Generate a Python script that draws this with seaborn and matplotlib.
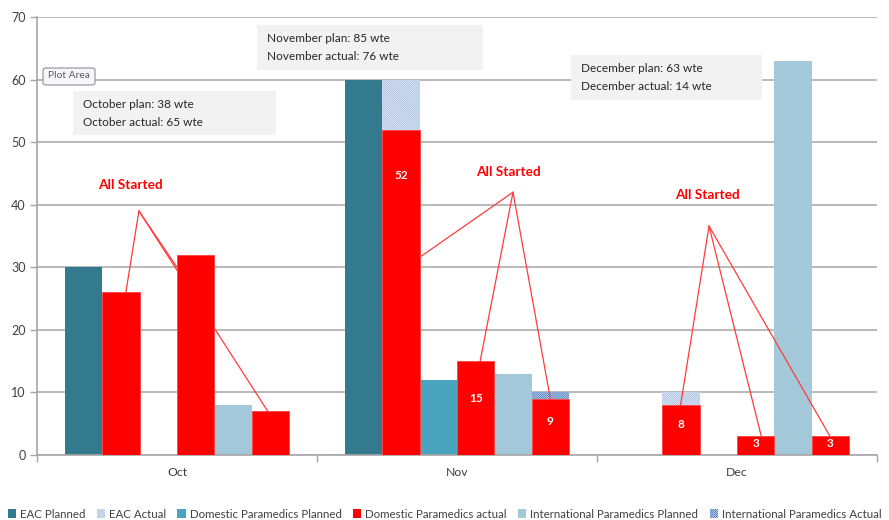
import matplotlib
matplotlib.use("Agg")
import matplotlib.pyplot as plt
from matplotlib.patches import Patch, Rectangle, FancyBboxPatch
import pandas as pd
import seaborn as sns

# ---- data -----------------------------------------------------------------
months = ["Oct", "Nov", "Dec"]
month_names = ["October", "November", "December"]
series = ["EAC Planned", "EAC Actual", "Domestic Paramedics Planned",
          "Domestic Paramedics actual", "International Paramedics Planned",
          "International Paramedics Actual"]
eac_planned = [30, 60, 0]
eac_actual = [26, 60, 10]
dom_planned = [0, 12, 0]
dom_actual = [32, 15, 3]
intl_planned = [8, 13, 63]
intl_actual = [7, 10, 3]
# staff already started, shown in red over the actual bars
eac_started = [26, 52, 8]
intl_started = [7, 9, 3]
plan_totals = [38, 85, 63]
actual_totals = [65, 76, 14]
# which red bars carry a value label
labelled_months = ["Nov", "Dec"]

colors = {
    "EAC Planned": "#347a8e",
    "EAC Actual": "#ffffff",
    "Domestic Paramedics Planned": "#48a4bf",
    "Domestic Paramedics actual": "#ff0000",
    "International Paramedics Planned": "#a2c8d9",
    "International Paramedics Actual": "#ffffff",
}
hatch_colors = {"EAC Actual": "#a9bee0", "International Paramedics Actual": "#4c7cc0"}
HATCH = "\\" * 16
RED = "#ff0000"

base = pd.DataFrame({
    "month": months * 6,
    "series": [s for s in series for _ in months],
    "value": eac_planned + eac_actual + dom_planned + dom_actual + intl_planned + intl_actual,
})
zeros = [0, 0, 0]
started = pd.DataFrame({
    "month": months * 6,
    "series": [s for s in series for _ in months],
    "value": zeros + eac_started + zeros + dom_actual + zeros + intl_started,
})

# ---- figure -----------------------------------------------------------------
sns.set_theme(style="white")
plt.rcParams["font.family"] = ["Lato", "DejaVu Sans"]
plt.rcParams["hatch.linewidth"] = 0.7

W, H = 889, 520
fig = plt.figure(figsize=(W / 100, H / 100), dpi=100)
ax = fig.add_axes([37 / W, 1 - 455 / H, (877 - 37) / W, (455 - 17) / H])

def fx(x):
    return x / W

def fy(y):
    return 1 - y / H

sns.barplot(data=base, x="month", y="value", hue="series", order=months,
            hue_order=series, palette=colors, errorbar=None, width=0.8,
            saturation=1, legend=False, ax=ax)
n_base = len(ax.containers)
sns.barplot(data=started, x="month", y="value", hue="series", order=months,
            hue_order=series, palette={s: RED for s in series}, errorbar=None,
            width=0.8, saturation=1, legend=False, ax=ax)

for s, cont in zip(series, ax.containers[:n_base]):
    for p in cont:
        p.set_linewidth(0)
        p.set_zorder(2)
        if s in hatch_colors:
            p.set_facecolor("white")
            p.set_edgecolor(hatch_colors[s])
            p.set_hatch(HATCH)
        if s == "Domestic Paramedics actual":
            p.set_visible(False)

red_bars = {}
for s, cont in zip(series, ax.containers[n_base:]):
    for m, p in zip(months, cont):
        red_bars[(s, m)] = p
        if p.get_height() <= 0:
            p.set_visible(False)
            continue
        p.set_edgecolor("#ff4a4a")
        p.set_linewidth(0.7)
        p.set_zorder(4)

# value labels inside the red bars
for (s, m), p in red_bars.items():
    v = p.get_height()
    if v <= 0 or m not in labelled_months:
        continue
    ax.text(p.get_x() + p.get_width() / 2, v - min(7.3, v * 0.4), f"{v:g}",
            ha="center", va="center", color="white", fontsize=8.5,
            fontweight="bold", zorder=6)

# "All Started" callouts: label position and apex as offsets from the month
# centre, then the red bars each callout points at
callouts = {
    "Oct": ((-0.168, 43.2), (-0.136, 39.0),
            [("EAC Actual", 0.63, None), ("Domestic Paramedics actual", 0.0, 30),
             ("International Paramedics Actual", 0.43, None)]),
    "Nov": ((0.182, 45.2), (0.2, 42.0),
            [("EAC Actual", 1.0, 31.6), ("Domestic Paramedics actual", 0.62, None),
             ("International Paramedics Actual", 0.5, None)]),
    "Dec": ((-0.104, 41.6), (-0.1, 36.6),
            [("EAC Actual", 0.49, None), ("Domestic Paramedics actual", 0.65, None),
             ("International Paramedics Actual", 0.49, None)]),
}
for i, m in enumerate(months):
    (tx, ty), (axx, ayy), targets = callouts[m]
    ax.text(i + tx, ty, "All Started", ha="center", va="center", color=RED,
            fontsize=9.8, fontweight="bold", zorder=6)
    for s, frac, yv in targets:
        p = red_bars[(s, m)]
        ex = p.get_x() + frac * p.get_width()
        ey = p.get_height() if yv is None else yv
        ax.plot([i + axx, ex], [ayy, ey], color="#ff3b3b", lw=0.9, zorder=3)

# axes styling
ax.set_ylim(0, 70)
ax.set_yticks(range(0, 71, 10))
ax.set_xlim(-0.5, 2.5)
ax.set_xlabel("")
ax.set_ylabel("")
ax.yaxis.grid(True, color="#b3b3b3", lw=1.3)
ax.set_axisbelow(True)
for side in ["top", "right"]:
    ax.spines[side].set_visible(False)
for side in ["left", "bottom"]:
    ax.spines[side].set_color("#a6a6a6")
    ax.spines[side].set_linewidth(1.2)
ax.tick_params(axis="y", length=5, width=1, color="#a6a6a6", labelsize=9,
               labelcolor="#404040", pad=3, left=True)
ax.tick_params(axis="x", which="major", length=0, labelsize=8.8,
               labelcolor="#404040", pad=9)
ax.set_xticks([-0.5, 0.5, 1.5, 2.5], minor=True)
ax.tick_params(axis="x", which="minor", length=5, width=1, color="#a6a6a6",
               bottom=True)

# monthly summary boxes
boxes = [(73, 91, 276, 135), (257, 25, 483, 70), (571, 55, 762, 100)]
for (x0, y0, x1, y1), name, pl, ac in zip(boxes, month_names, plan_totals, actual_totals):
    fig.add_artist(Rectangle((fx(x0), fy(y1)), fx(x1 - x0), (y1 - y0) / H,
                             transform=fig.transFigure, facecolor="#f2f2f2",
                             edgecolor="none", zorder=5))
    fig.text(fx(x0 + 10), fy(y0 + 13), f"{name} plan: {pl} wte", ha="left",
             va="center", fontsize=8.5, color="#262626", zorder=6)
    fig.text(fx(x0 + 10), fy(y0 + 31), f"{name} actual: {ac} wte", ha="left",
             va="center", fontsize=8.5, color="#262626", zorder=6)

# chart-area tag
fig.add_artist(FancyBboxPatch((fx(43), fy(85)), fx(52), 17 / H,
                              boxstyle="round,pad=0,rounding_size=0.004",
                              transform=fig.transFigure, facecolor="#f7f7fa",
                              edgecolor="#9a9aa6", lw=0.9, zorder=5))
fig.text(fx(69), fy(76), "Plot Area", ha="center", va="center", fontsize=7.4,
         color="#5a5a66", zorder=6)

# legend
handles = []
for s in series:
    if s in hatch_colors:
        handles.append(Patch(facecolor="white", edgecolor=hatch_colors[s],
                             hatch=HATCH, lw=0, label=s))
    else:
        handles.append(Patch(facecolor=colors[s], edgecolor="none", label=s))
fig.legend(handles=handles, loc="center", bbox_to_anchor=(0.5, fy(514)),
           ncol=6, frameon=False, fontsize=8.3, handlelength=0.7,
           handleheight=0.7, handletextpad=0.35, columnspacing=1.0,
           labelcolor="#404040")

fig.savefig("out.png", dpi=100)
